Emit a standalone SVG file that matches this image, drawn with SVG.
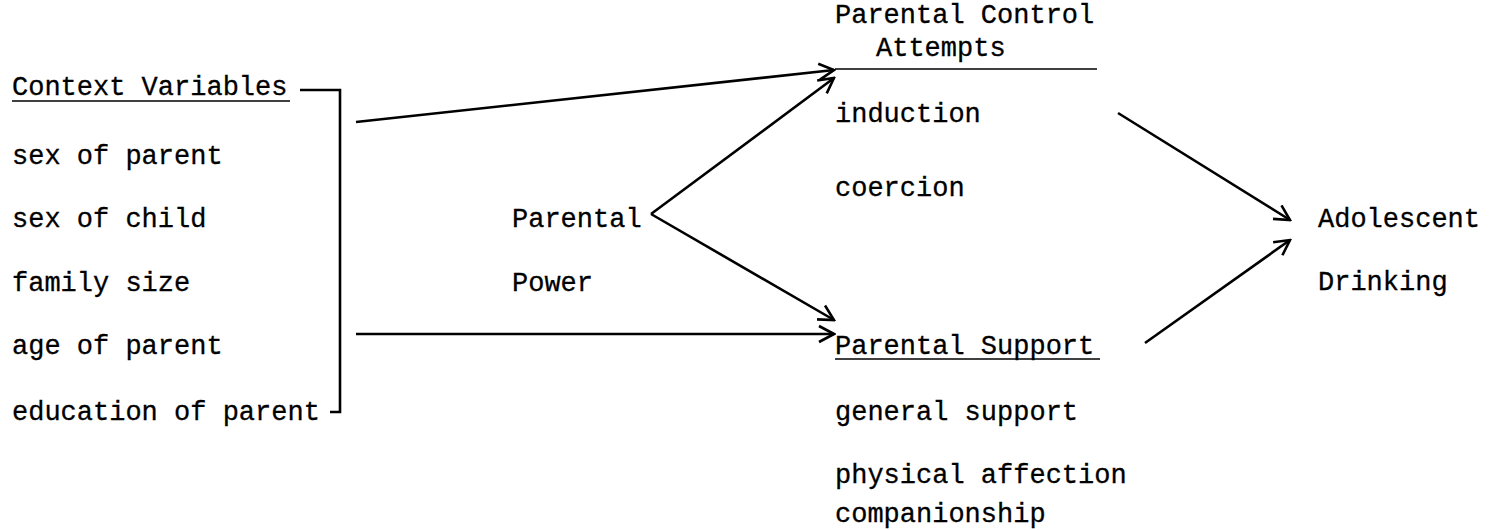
<svg xmlns="http://www.w3.org/2000/svg" width="1490" height="530" viewBox="0 0 1490 530">
<defs>
<marker id="ah" viewBox="0 0 20 20" refX="18" refY="10" markerWidth="20" markerHeight="20" markerUnits="userSpaceOnUse" orient="auto">
<path d="M3,2 L18,10 L3,18" fill="none" stroke="#000" stroke-width="2.6"/>
</marker>
<style>
text{font-family:"Liberation Mono","Courier New",monospace;font-size:27px;fill:#000;stroke:#000;stroke-width:0.3}
.ln{stroke:#000;stroke-width:2.6;fill:none}
.ul{stroke:#000;stroke-width:1.6}
</style>
</defs>
<rect width="1490" height="530" fill="#fff"/>
<g id="context">
<text x="12" y="95">Context Variables</text>
<line class="ul" x1="12" y1="101" x2="290" y2="101"/>
<text x="12" y="164">sex of parent</text>
<text x="12" y="227">sex of child</text>
<text x="12" y="291">family size</text>
<text x="12" y="354">age of parent</text>
<text x="12" y="420">education of parent</text>
<path class="ln" d="M300,90 L340,90 L340,412 L330,412"/>
</g>
<g id="power">
<text x="512" y="227">Parental</text>
<text x="512" y="291">Power</text>
</g>
<g id="control">
<text x="835" y="23">Parental Control</text>
<text x="876" y="56">Attempts</text>
<line class="ul" x1="835" y1="69" x2="1097" y2="69"/>
<text x="835" y="122">induction</text>
<text x="835" y="196">coercion</text>
</g>
<g id="support">
<text x="835" y="354">Parental Support</text>
<line class="ul" x1="835" y1="359" x2="1100" y2="359"/>
<text x="835" y="420">general support</text>
<text x="835" y="483">physical affection</text>
<text x="835" y="522">companionship</text>
</g>
<g id="drinking">
<text x="1318" y="227">Adolescent</text>
<text x="1318" y="290">Drinking</text>
</g>
<g id="connectors">
<line class="ln" x1="356" y1="122" x2="834" y2="70" marker-end="url(#ah)"/>
<line class="ln" x1="356" y1="334" x2="834" y2="334" marker-end="url(#ah)"/>
<line class="ln" x1="651" y1="214" x2="834" y2="78" marker-end="url(#ah)"/>
<line class="ln" x1="651" y1="214" x2="834" y2="320" marker-end="url(#ah)"/>
<line class="ln" x1="1118" y1="113" x2="1290" y2="220" marker-end="url(#ah)"/>
<line class="ln" x1="1145" y1="343" x2="1290" y2="240" marker-end="url(#ah)"/>
</g>
</svg>
